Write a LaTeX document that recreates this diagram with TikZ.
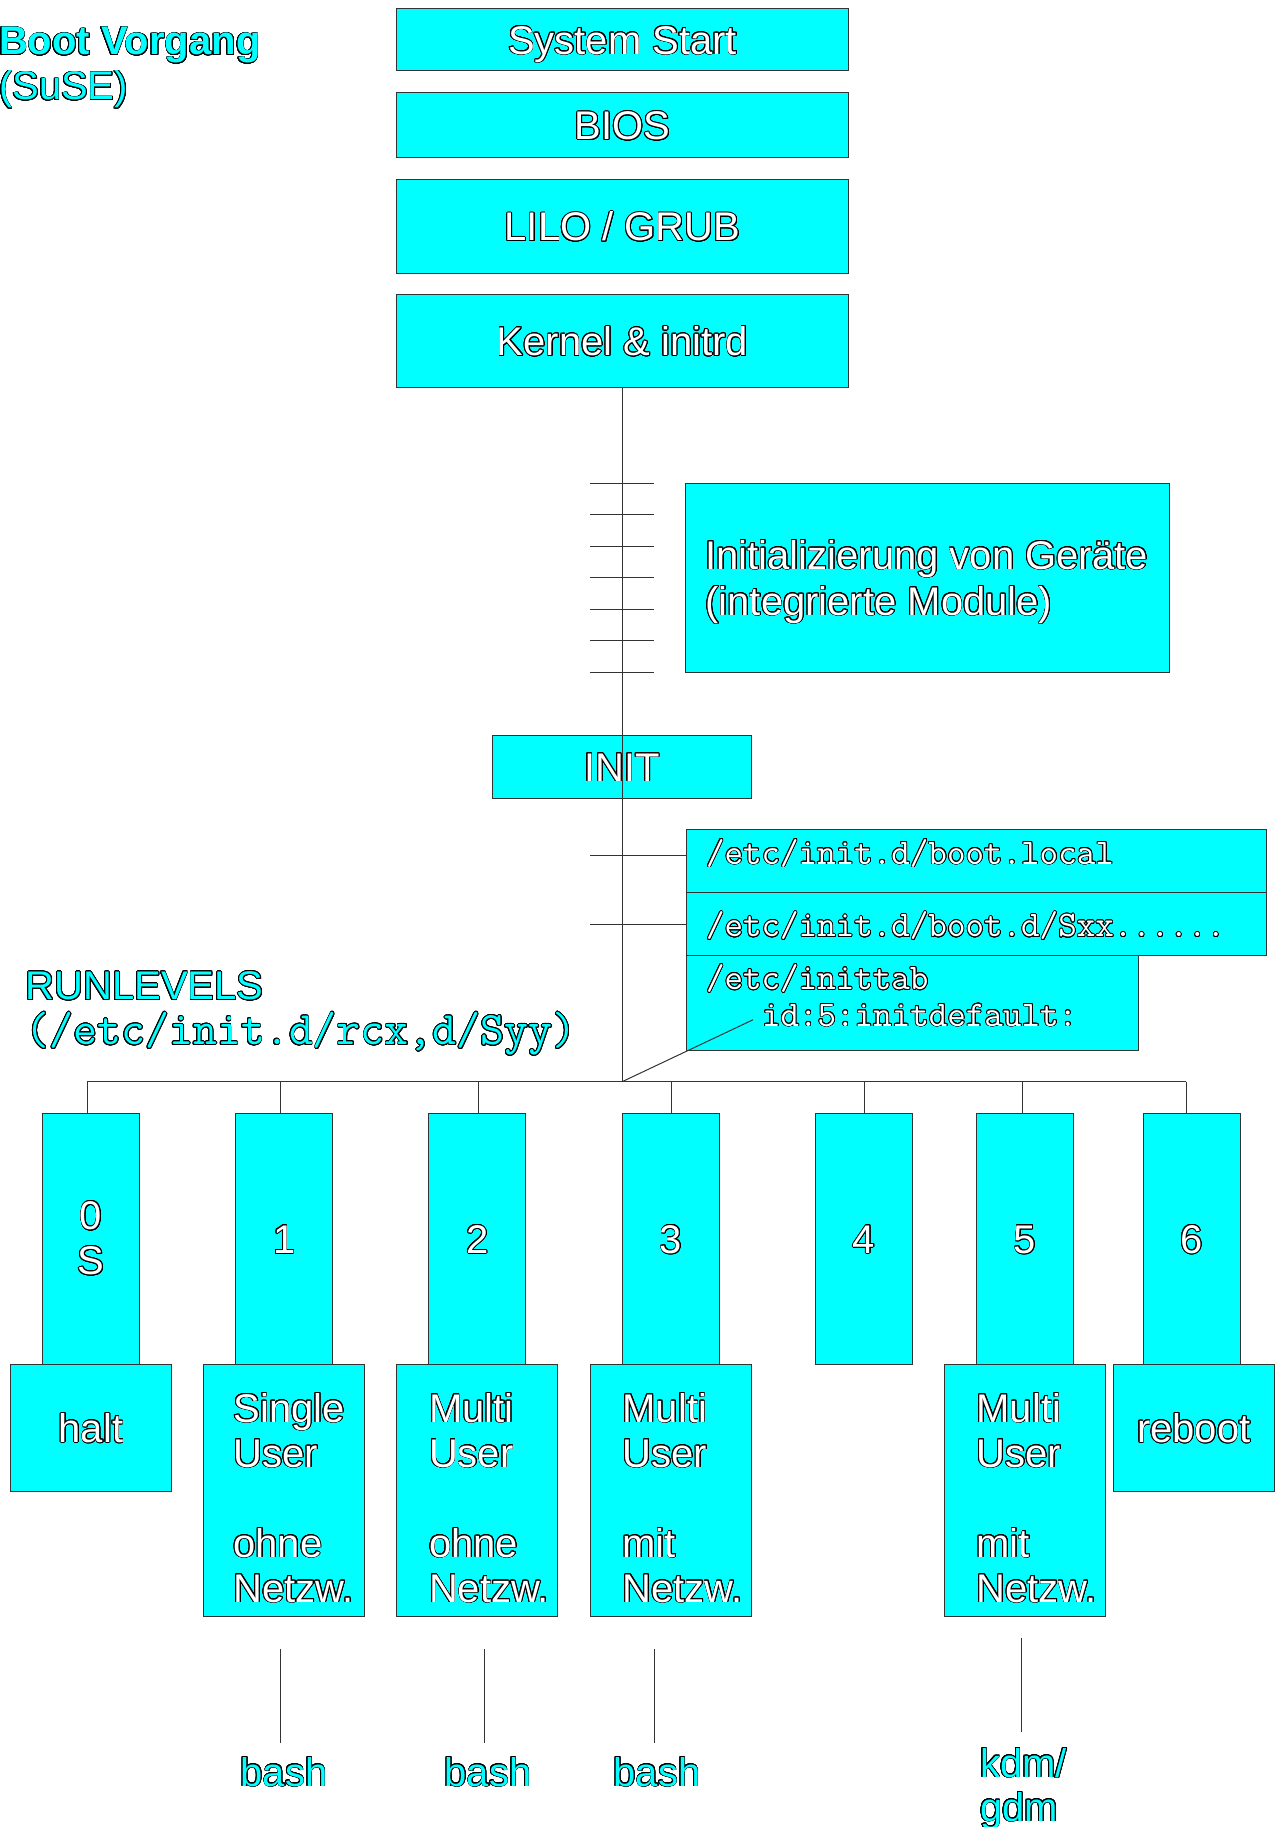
\documentclass[tikz,border=0pt]{standalone}
\usepackage{fontspec}
\usepackage[copies]{contour}
\usetikzlibrary{positioning}
\newfontfamily\arial{Liberation Sans}
\definecolor{aqua}{RGB}{0,255,255}
\contourlength{0.8pt}
\contournumber{24}
\newcommand{\rim}[1]{\contour{black}{#1}}
\newcommand{\fsize}[2]{\fontsize{#1}{#2}\selectfont}
\newcommand{\rlnode}[4][]{\node(#2)[rlbox,#1] at (#3,1238.75) {#4}}
% base of a multi-line node is its last line
\newcommand{\modetxt}[4]{\node(#1)[txt] at (#2,1602) {\rim{#3}\\\rim{User}\\[45pt]\rim{#4}\\\rim{Netzw.}}}

\begin{document}
\begin{tikzpicture}[
    x=1pt, y=-1pt,
    every node/.style={inner sep=0pt, outer sep=0pt, font=\arial\fsize{40}{45}},
    box/.style={draw=black!80, fill=aqua, line width=1pt, text=white},
    capline/.style={text height=29pt, text depth=0pt},
    stage/.style={box, capline, minimum width=451.6pt},
    rlbox/.style={box, minimum width=97pt, minimum height=251.5pt, align=center},
    runmode/.style={box, minimum width=161.2pt},
    script/.style={box, anchor=north west},
    txt/.style={anchor=base west, align=left, text=white},
    mono/.style={font=\ttfamily\fsize{36}{37}},
    tag/.style={anchor=base west, align=left, text=aqua},
    shell/.style={anchor=base, capline, text=aqua},
    wire/.style={draw=black!80, line width=1pt}
  ]
  \useasboundingbox (0,0) rectangle (1281,1827);

  % Headings
  \node (title) [tag, font=\arial\bfseries\fsize{40}{45}] at (-1,100) {\rim{Boot Vorgang}\\\mdseries\rim{(SuSE)}};
  \node (runlv) [tag] at (25.6,1044.6) {\rim{RUNLEVELS}\\{\ttfamily\fsize{46.5}{45}\rim{(/etc/init.d/rcx,d/Syy)}}};

  % Boot chain at the top
  \node (start)  [stage, minimum height=62.7pt] at (622.5,39.65) {\rim{System Start}};
  \node (bios)   [stage, minimum height=65pt]   at (622.5,125.2) {\rim{BIOS}};
  \node (lilo)   [stage, minimum height=94pt]   at (622.5,226.3) {\rim{LILO / GRUB}};
  \node (kernel) [stage, minimum height=93.4pt] at (622.5,341)   {\rim{Kernel \& initrd}};

  % Device initialisation
  \node (devs) [box, minimum width=483.2pt, minimum height=189pt] at (927.4,577.8) {};
  \node (devstxt) [txt, font=\arial\fsize{40}{46}] at (705.5,615) {\rim{Initializierung von Geräte}\\\rim{(integrierte Module)}};

  % INIT and its scripts
  \node (init) [box, capline, minimum width=258.2pt, minimum height=63.3pt] at (621.9,766.65) {\rim{INIT}};
  \node (local)   [script, minimum width=580.1pt, minimum height=63.4pt] at (686.6,829.3) {};
  \node (sxx)     [script, minimum width=580.1pt, minimum height=63pt]   at (686.6,892.7) {};
  \node (inittab) [script, minimum width=451.4pt, minimum height=94.3pt] at (686.6,955.7) {};
  \node (localtxt) [txt, mono] at (706,864)   {\rim{/etc/init.d/boot.local}};
  \node (sxxtxt)   [txt, mono] at (706,936.7) {\rim{/etc/init.d/boot.d/Sxx......}};
  \node (tabtxt)   [txt, mono] at (706,989.3) {\rim{/etc/inittab}};
  \node (idtxt)    [txt, mono] at (762,1026)  {\rim{id:5:initdefault:}};

  % Runlevels
  \rlnode{l0}{91}{\rim{0}\\\rim{S}};
  \rlnode[capline]{l1}{284.3}{\rim{1}};
  \rlnode[capline]{l2}{477.35}{\rim{2}};
  \rlnode[capline]{l3}{671}{\rim{3}};
  \rlnode[capline]{l4}{863.9}{\rim{4}};
  \rlnode[capline]{l5}{1025}{\rim{5}};
  \rlnode[capline]{l6}{1191.5}{\rim{6}};

  % What each runlevel does
  \node (halt)   [runmode, capline, minimum height=126.5pt, below=0pt of l0] {\rim{halt}};
  \node (single) [runmode, minimum height=251.5pt, below=0pt of l1] {};
  \node (multi2) [runmode, minimum height=251.5pt, below=0pt of l2] {};
  \node (multi3) [runmode, minimum height=251.5pt, below=0pt of l3] {};
  \node (multi5) [runmode, minimum height=251.5pt, below=0pt of l5] {};
  \node (reboot) [runmode, capline, minimum height=126.5pt, below=0pt of l6, xshift=2.3pt] {\rim{reboot}};
  \modetxt{singletxt}{233.5}{Single}{ohne};
  \modetxt{multi2txt}{429}{Multi}{ohne};
  \modetxt{multi3txt}{622.6}{Multi}{mit};
  \modetxt{multi5txt}{976.6}{Multi}{mit};

  % Shells at the bottom
  \node (bash1) [shell] at (284,1786) {\rim{bash}};
  \node (bash2) [shell] at (488,1786) {\rim{bash}};
  \node (bash3) [shell] at (657,1786) {\rim{bash}};
  \node (kdm) [tag, font=\arial\fsize{40}{44}] at (980,1821) {\rim{kdm/}\\\rim{gdm}};

  % Main line, ticks and the runlevel bus
  \coordinate (hub) at (622.3,1081.5);
  \draw[wire] (kernel.south) -- (kernel.south |- hub);
  \foreach \k in {0,...,6}
    \draw[wire] (589.9,{483.3+31.5*\k}) -- ++(64.3,0);
  \coordinate (t1) at (590,855);
  \coordinate (t2) at (590,924);
  \draw[wire] (t1) -- (t1 -| local.west);
  \draw[wire] (t2) -- (t2 -| sxx.west);
  \draw[wire, shorten >=10pt] (kernel.south |- hub) -- (idtxt.west);
  \foreach \n/\sx in {0/87.3,1/280.8,2/478.8,3/671.2,4/864.6,5/1022.7,6/1186.4}{
    \coordinate (s\n) at (\sx,1081.5);
    \draw[wire] (s\n) -- (s\n |- l\n.north);
  }
  \draw[wire] (s0) -- (s6);

  % Lines down to the shells
  \foreach \n/\bx in {1/280.5,2/484.8,3/654.2}{
    \coordinate (b\n) at (\bx,1649);
    \draw[wire, shorten >=14pt] (b\n) -- (b\n |- bash\n.north);
  }
  \coordinate (k5) at (1021.6,1638);
  \draw[wire] (k5) -- ++(0,94);
\end{tikzpicture}
\end{document}
